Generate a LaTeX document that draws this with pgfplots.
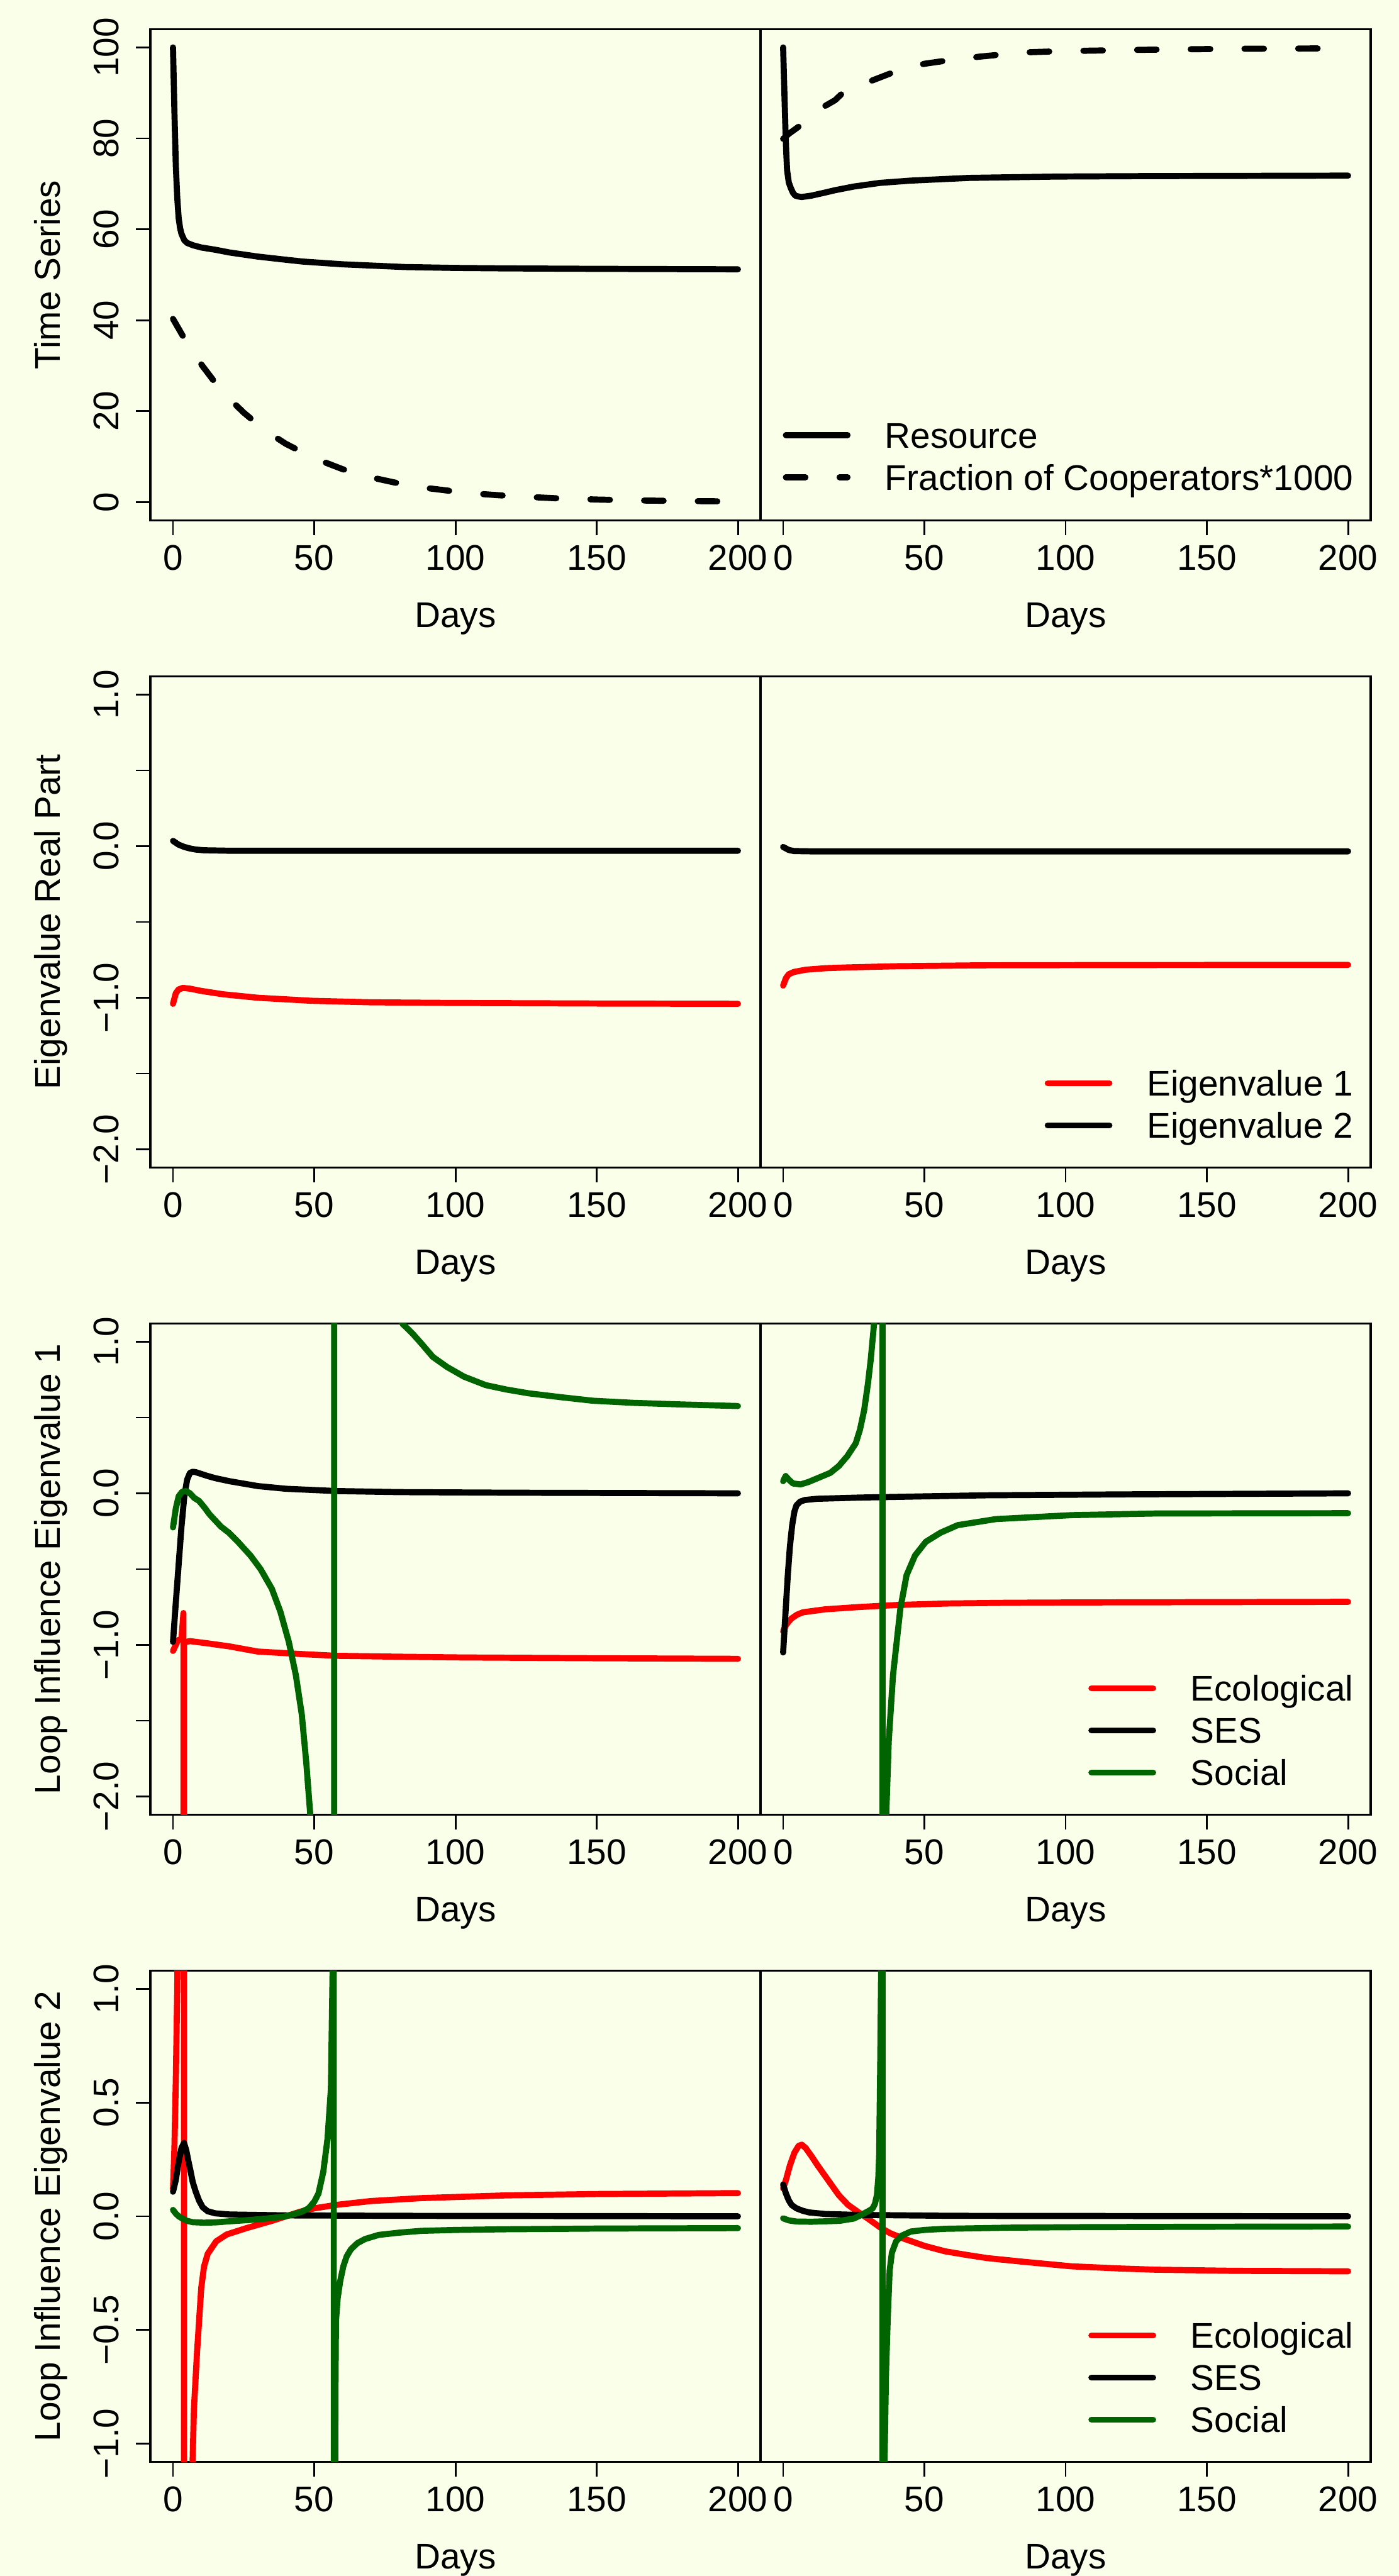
\documentclass[border=0pt]{standalone}
\usepackage{fontspec}
\setmainfont{Liberation Sans}
\usepackage{pgfplots}
\pgfplotsset{compat=1.18}
\definecolor{bgc}{RGB}{249,255,232}
\definecolor{dgreen}{RGB}{0,100,0}
\pgfplotsset{
 panel/.style={
  scale only axis, width=200pt, height=161pt, anchor=south west,
  xmin=-8, xmax=208, no marks,
  xtick={0,50,100,150,200}, xticklabels={0,50,100,150,200},
  xtick pos=left, ytick pos=left,
  tick align=outside, major tick length=4.8pt,
  tick style={black, line width=0.6pt},
  axis line style={black, line width=0.7pt},
  xticklabel style={anchor=base, yshift=-11.6pt, inner sep=0pt},
  yticklabel style={xshift=-5.4pt, rotate=90, anchor=south, inner sep=0pt},
  xlabel={Days},
  xlabel style={at={(axis description cs:0.5,-0.2174)}, anchor=base, inner sep=0pt},
  ylabel style={at={(axis description cs:-0.148,0.5)}, anchor=base, inner sep=0pt},
  every axis plot/.append style={line width=2pt, line cap=round, line join=round},
  legend style={draw=none, fill=none, inner sep=0pt, outer sep=0pt, row sep=0pt,
    anchor=south east, at={(axis description cs:0.9715,0.043)},
    nodes={inner sep=0pt, anchor=base west, text height=11.1pt, text depth=2.7pt},
    /tikz/every odd column/.append style={column sep=11.3pt}},
  legend cell align=left,
  legend image code/.code={\draw[#1] (0pt,4.2pt) -- (20.2pt,4.2pt);},
 },
 rightpanel/.style={panel, ytick=\empty, yticklabels={}},
 ev/.style={ymin=-2.12, ymax=1.12, ytick={-2,-1.5,-1,-0.5,0,0.5,1},
   yticklabels={{−2.0},{},{−1.0},{},{0.0},{},{1.0}}},
 li/.style={ymin=-1.08, ymax=1.08, ytick={-1,-0.5,0,0.5,1},
   yticklabels={{−1.0},{−0.5},{0.0},{0.5},{1.0}}},
}
\begin{document}
\fontsize{11.7}{14}\selectfont
\begin{tikzpicture}
\fill[bgc] (0,0) rectangle (458.4pt,844.6pt);
\useasboundingbox (0,0) rectangle (458.4pt,844.6pt);

% ---------------- Row 1 ----------------
\begin{axis}[panel, at={(49.3pt,674pt)}, ymin=-4, ymax=104,
  ytick={0,20,40,60,80,100}, yticklabels={0,20,40,60,80,100}, ylabel={Time Series}]
\addplot[black] coordinates {(0,100) (0.5,86) (1,74) (1.5,67) (2,62.5) (2.5,60.3) (3,59) (4,57.6) (5,57.0) (7,56.5) (10,56.0) (15,55.5) (20,54.9) (30,54.0) (40,53.3) (46,52.9) (60,52.3) (82,51.7) (100,51.5) (118,51.4) (150,51.3) (200,51.2)};
\addplot[black, dash pattern=on 6.4pt off 11.2pt] coordinates {(0,40.3) (5,34.9) (10,30.3) (15,26.2) (20,22.7) (25,19.7) (30,17.1) (35,14.8) (40,12.8) (50,9.65) (60,7.25) (70,5.45) (80,4.10) (90,3.08) (100,2.32) (110,1.74) (120,1.31) (135,0.86) (150,0.56) (165,0.36) (180,0.24) (200,0.13)};
\end{axis}
\begin{axis}[rightpanel, at={(249.3pt,674pt)}, ymin=-4, ymax=104,
  legend style={at={(axis description cs:0.9715,0.045)}}]
\addplot[black] coordinates {(0,100) (0.4,91) (0.8,82.3) (1.1,77) (1.4,73) (2,70.3) (2.7,69.1) (3.5,68) (4.3,67.4) (5.5,67.2) (6.6,67.1) (10,67.4) (15,68.1) (18.4,68.6) (25,69.4) (34.2,70.2) (45,70.7) (65.7,71.3) (97,71.6) (130,71.7) (200,71.8)};
\addlegendentry{Resource}
\addplot[black, dash pattern=on 6.4pt off 11.2pt] coordinates {(0,79.9) (2,81) (5.8,82.7) (10,85) (14.5,87) (18.4,88.4) (21.6,90.3) (25,91.2) (31,92.6) (38.9,94.5) (45,95.6) (50,96.4) (60,97.3) (70,98.0) (85,98.9) (100,99.2) (130,99.5) (160,99.7) (200,99.8)};
\addlegendentry{Fraction of Cooperators*1000}
\end{axis}

% ---------------- Row 2 ----------------
\begin{axis}[panel, ev, at={(49.3pt,461.8pt)}, ylabel={Eigenvalue Real Part}]
\addplot[red] coordinates {(0,-1.04) (1,-0.97) (2,-0.945) (3.5,-0.935) (6,-0.94) (10,-0.955) (17.7,-0.977) (30,-1.0) (49,-1.02) (70,-1.03) (97,-1.034) (150,-1.038) (200,-1.04)};
\addplot[black] coordinates {(0,0.035) (2,0.01) (4,-0.005) (6,-0.015) (8,-0.022) (11,-0.027) (20,-0.03) (200,-0.03)};
\end{axis}
\begin{axis}[ev, rightpanel, at={(249.3pt,461.8pt)}]
\addplot[red] coordinates {(0,-0.92) (1,-0.87) (2,-0.845) (3.8,-0.83) (8,-0.815) (15,-0.805) (22.7,-0.80) (40,-0.792) (70,-0.786) (120,-0.784) (200,-0.783)};
\addlegendentry{Eigenvalue 1}
\addplot[black] coordinates {(0,-0.005) (1,-0.015) (2,-0.025) (3.8,-0.032) (10,-0.034) (200,-0.034)};
\addlegendentry{Eigenvalue 2}
\end{axis}

% ---------------- Row 3 ----------------
\begin{axis}[panel, ev, at={(49.3pt,249.6pt)}, ylabel={Loop Influence Eigenvalue 1}]
\addplot[red] coordinates {(0,-1.04) (1,-1.0) (1.7,-0.97) (3.0,-0.96) (3.7,-0.79) (3.8,-40) (3.9,-0.98) (4.7,-0.98) (6,-0.975) (8,-0.98) (12.3,-0.99) (20,-1.01) (30,-1.044) (45,-1.06) (57.7,-1.072) (80,-1.078) (103,-1.083) (150,-1.088) (200,-1.092)};
\addplot[black] coordinates {(0,-0.98) (1,-0.72) (2,-0.47) (3,-0.22) (4,-0.02) (5,0.09) (6,0.135) (7,0.142) (8,0.14) (10,0.128) (12.3,0.114) (15,0.1) (20,0.08) (30,0.048) (40,0.03) (58,0.015) (80,0.008) (120,0.004) (200,0.0)};
\addplot[dgreen] coordinates {(0,-0.225) (1,-0.1) (2,-0.02) (3.2,0.01) (4.7,0.015) (6,0.0) (7.5,-0.03) (9.2,-0.05) (11,-0.09) (13,-0.14) (14.5,-0.17) (17,-0.22) (19.8,-0.26) (23,-0.32) (27.4,-0.41) (31,-0.5) (35,-0.63) (38,-0.78) (41,-0.98) (43.5,-1.2) (45.6,-1.46) (47.2,-1.78) (48.6,-2.12) (50,-2.6) (52,-3.6) (54,-5.5) (56,-12) (56.95,-40) (57.15,40) (60,25) (65,8) (70,3.5) (75,2.0) (78,1.5) (81.2,1.12) (85,1.05) (88,0.987) (92,0.9) (97,0.834) (103,0.77) (110.7,0.714) (118,0.685) (125.9,0.66) (137,0.635) (148.6,0.611) (163,0.597) (178.9,0.587) (200,0.576)};
\end{axis}
\begin{axis}[ev, rightpanel, at={(249.3pt,249.6pt)}]
\addplot[red] coordinates {(0,-0.91) (1,-0.87) (2,-0.845) (3,-0.825) (5,-0.8) (7,-0.785) (9,-0.78) (15,-0.765) (27,-0.75) (40,-0.737) (57.6,-0.727) (80,-0.722) (103,-0.72) (150,-0.718) (200,-0.716)};
\addlegendentry{Ecological}
\addplot[black] coordinates {(0,-1.05) (0.8,-0.8) (1.65,-0.54) (2.4,-0.35) (3.2,-0.21) (4,-0.12) (4.7,-0.08) (6,-0.055) (7.7,-0.044) (12,-0.036) (27,-0.028) (50,-0.02) (72,-0.013) (120,-0.007) (200,0.0)};
\addlegendentry{SES}
\addplot[dgreen] coordinates {(0,0.08) (0.9,0.114) (2,0.09) (3.5,0.065) (6.2,0.059) (9,0.075) (12.2,0.1) (16.7,0.135) (19.7,0.18) (22.7,0.245) (25.7,0.33) (27.2,0.42) (28.7,0.55) (30,0.72) (31,0.88) (32.2,1.12) (33,1.6) (34,3) (34.7,10) (35.1,40) (35.3,-40) (35.8,-20) (36.2,-4) (36.5,-2.12) (37.4,-1.63) (38.9,-1.2) (41.5,-0.76) (43.7,-0.54) (46.7,-0.41) (50.5,-0.32) (55.7,-0.26) (61.8,-0.21) (75.3,-0.17) (102,-0.144) (132,-0.133) (200,-0.131)};
\addlegendentry{Social}
\end{axis}

% ---------------- Row 4 ----------------
\begin{axis}[panel, li, at={(49.3pt,37.4pt)}, ylabel={Loop Influence Eigenvalue 2}]
\addplot[red] coordinates {(0,0.12) (0.5,0.3) (1.0,0.6) (1.5,1.0) (2.0,1.6) (3.0,4) (3.7,30) (3.85,40) (3.95,-40) (5,-30) (6,-6) (6.6,-2) (6.9,-1.1) (7.4,-0.85) (8.5,-0.6) (10,-0.315) (11,-0.22) (12.3,-0.165) (15.3,-0.11) (19,-0.08) (26,-0.052) (35,-0.02) (40,0.0) (45,0.02) (50,0.035) (57.7,0.05) (70,0.067) (88,0.08) (118,0.092) (150,0.098) (200,0.102)};
\addplot[black] coordinates {(0,0.108) (1,0.16) (2,0.24) (3,0.3) (3.9,0.323) (4.7,0.29) (5.5,0.24) (6.2,0.2) (7,0.15) (8,0.11) (9.2,0.07) (10.5,0.04) (12.3,0.022) (15,0.013) (20,0.008) (40,0.004) (80,0.002) (200,0.0)};
\addplot[dgreen] coordinates {(0,0.028) (1,0.012) (2,0.0) (3.2,-0.009) (5,-0.02) (7,-0.026) (10.8,-0.028) (15,-0.027) (20,-0.022) (27.4,-0.016) (33,-0.01) (39.5,-0.001) (43,0.01) (45.6,0.02) (48,0.035) (50,0.064) (51.5,0.1) (53.2,0.195) (54.7,0.34) (55.9,0.56) (56.5,1.08) (56.7,3) (56.85,40) (57.0,-40) (57.2,-3) (57.5,-0.8) (57.7,-0.46) (58.3,-0.36) (59.2,-0.285) (60.3,-0.22) (61.5,-0.176) (63,-0.145) (65.3,-0.118) (68,-0.1) (72.8,-0.082) (80,-0.072) (88,-0.064) (100,-0.06) (118,-0.057) (150,-0.054) (200,-0.052)};
\end{axis}
\begin{axis}[li, rightpanel, at={(249.3pt,37.4pt)}]
\addplot[red] coordinates {(0,0.122) (1,0.16) (2.4,0.224) (4,0.28) (5.5,0.31) (6.6,0.315) (8,0.3) (10,0.265) (12.2,0.224) (15,0.175) (19.7,0.093) (23,0.05) (27.2,0.013) (30,-0.01) (34.7,-0.052) (38,-0.075) (42.2,-0.096) (50,-0.13) (57.3,-0.154) (65,-0.17) (72.3,-0.184) (85,-0.2) (102,-0.22) (120,-0.23) (132,-0.235) (160,-0.24) (200,-0.242)};
\addlegendentry{Ecological}
\addplot[black] coordinates {(0,0.14) (1,0.1) (2,0.07) (3,0.05) (4.7,0.035) (7,0.024) (9.2,0.017) (15,0.01) (27,0.006) (60,0.002) (200,0.0)};
\addlegendentry{SES}
\addplot[dgreen] coordinates {(0,-0.009) (2,-0.018) (4.7,-0.023) (10,-0.024) (20,-0.02) (25,-0.01) (27.2,0.003) (29,0.015) (30.5,0.025) (31.7,0.035) (32.5,0.055) (33.2,0.093) (33.7,0.17) (34,0.27) (34.4,0.7) (34.7,1.08) (34.9,5) (35.1,40) (35.3,-40) (35.6,-5) (35.9,-1.08) (36.4,-0.7) (37,-0.46) (37.7,-0.24) (38.5,-0.16) (40,-0.11) (42,-0.085) (45.2,-0.067) (50,-0.06) (57.3,-0.055) (80,-0.05) (102,-0.048) (150,-0.046) (200,-0.045)};
\addlegendentry{Social}
\end{axis}
\end{tikzpicture}
\end{document}
